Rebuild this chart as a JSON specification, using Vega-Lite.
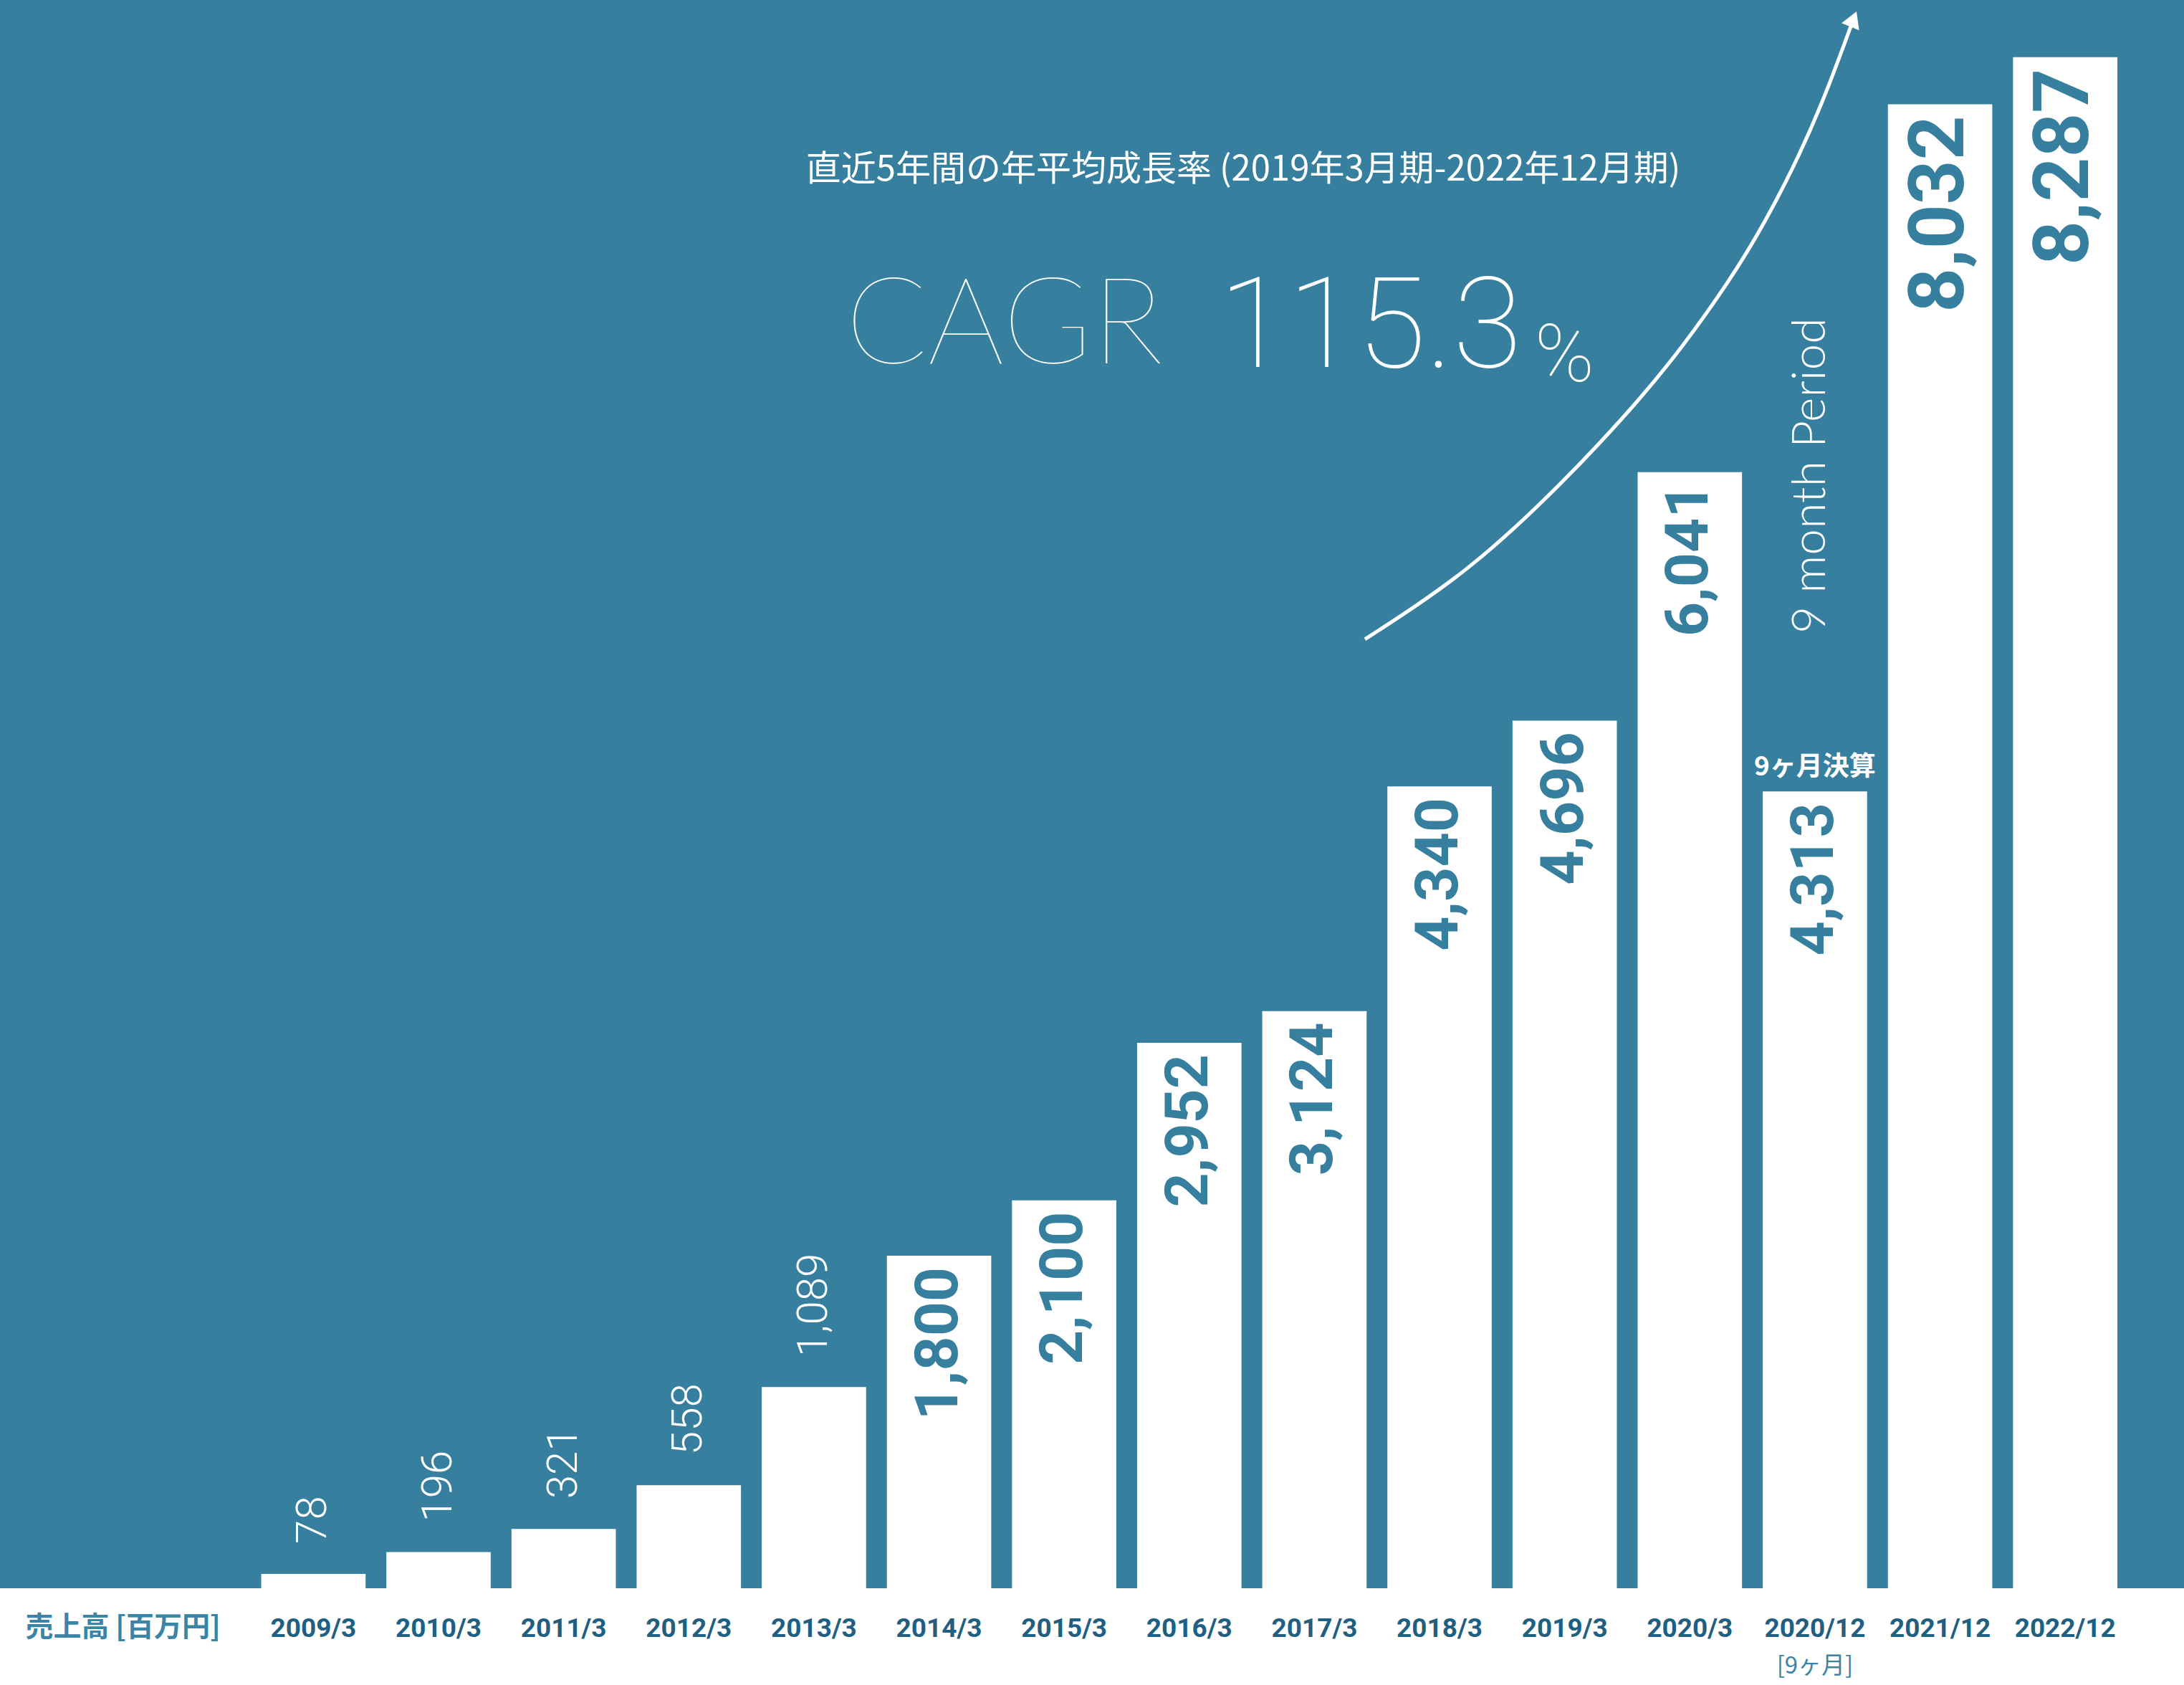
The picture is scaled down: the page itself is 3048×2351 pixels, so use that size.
{
  "$schema": "https://vega.github.io/schema/vega-lite/v6.json",
  "width": 3048,
  "height": 2216,
  "autosize": "none",
  "padding": {"left": 0, "right": 0, "top": 0, "bottom": 135},
  "background": "#ffffff",
  "config": {"view": {"fill": "#367F9E", "stroke": null}},
  "datasets": {
    "sales": [
      {"period": "2009/3", "sales": 78},
      {"period": "2010/3", "sales": 196},
      {"period": "2011/3", "sales": 321},
      {"period": "2012/3", "sales": 558},
      {"period": "2013/3", "sales": 1089},
      {"period": "2014/3", "sales": 1800},
      {"period": "2015/3", "sales": 2100},
      {"period": "2016/3", "sales": 2952},
      {"period": "2017/3", "sales": 3124},
      {"period": "2018/3", "sales": 4340},
      {"period": "2019/3", "sales": 4696},
      {"period": "2020/3", "sales": 6041},
      {"period": "2020/12", "sales": 4313},
      {"period": "2021/12", "sales": 8032},
      {"period": "2022/12", "sales": 8287}
    ]
  },
  "layer": [
    {
      "data": {"name": "sales"},
      "mark": {"type": "bar", "color": "#ffffff"},
      "encoding": {
        "x": {
          "field": "period", "type": "nominal", "sort": null,
          "scale": {"type": "band", "domain": ["2009/3","2010/3","2011/3","2012/3","2013/3","2014/3","2015/3","2016/3","2017/3","2018/3","2019/3","2020/3","2020/12","2021/12","2022/12"], "range": [277.25, 3042.35], "paddingInner": 0.166, "paddingOuter": 0.5, "align": 0.5, "round": false},
          "axis": {
            "orient": "bottom",
            "title": "売上高 [百万円]",
            "titleX": 35, "titleY": 54, "titleAlign": "left", "titleBaseline": "middle", "titleAngle": 0,
            "titleFont": "Noto Sans CJK JP", "titleFontWeight": "bold", "titleFontSize": 39, "titleColor": "#3A85A5",
            "labelFont": "Roboto",
            "labelFontWeight": "bold", "labelFontSize": 37, "labelColor": "#1F5F82",
            "labelAngle": 0, "labelPadding": 38, "labelBaseline": "top",
            "ticks": false, "domain": false, "grid": false
          }
        },
        "y": {"field": "sales", "type": "quantitative", "scale": {"domain": [0, 8596], "nice": false, "zero": true}, "axis": null}
      }
    },
    {
      "data": {"name": "sales"},
      "transform": [{"filter": "datum.sales >= 1500"}],
      "mark": {"type": "text", "angle": 270, "align": "right", "baseline": "middle", "dx": -16, "color": "#367F9E", "font": "Roboto", "fontWeight": "bold"},
      "encoding": {
        "x": {
          "field": "period", "type": "nominal", "sort": null, "bandPosition": 0.5,
          "scale": {"type": "band", "domain": ["2009/3","2010/3","2011/3","2012/3","2013/3","2014/3","2015/3","2016/3","2017/3","2018/3","2019/3","2020/3","2020/12","2021/12","2022/12"], "range": [277.25, 3042.35], "paddingInner": 0.166, "paddingOuter": 0.5, "align": 0.5, "round": false},
          "axis": null
        },
        "y": {"field": "sales", "type": "quantitative", "scale": {"domain": [0, 8596], "nice": false, "zero": true}, "axis": null},
        "text": {"field": "sales", "type": "quantitative", "format": ","},
        "size": {"condition": {"test": "datum.sales > 7000", "value": 108}, "value": 84}
      }
    },
    {
      "data": {"name": "sales"},
      "transform": [{"filter": "datum.sales < 1500"}],
      "mark": {"type": "text", "angle": 270, "align": "left", "baseline": "middle", "dx": 42, "fontSize": 60, "color": "#ffffff", "font": "Roboto", "fontWeight": 300},
      "encoding": {
        "x": {
          "field": "period", "type": "nominal", "sort": null, "bandPosition": 0.5,
          "scale": {"type": "band", "domain": ["2009/3","2010/3","2011/3","2012/3","2013/3","2014/3","2015/3","2016/3","2017/3","2018/3","2019/3","2020/3","2020/12","2021/12","2022/12"], "range": [277.25, 3042.35], "paddingInner": 0.166, "paddingOuter": 0.5, "align": 0.5, "round": false},
          "axis": null
        },
        "y": {"field": "sales", "type": "quantitative", "scale": {"domain": [0, 8596], "nice": false, "zero": true}, "axis": null},
        "text": {"field": "sales", "type": "quantitative", "format": ","}
      }
    },
    {
      "data": {"values": [{"period": "2020/12", "v": 4313, "label": "9ヶ月決算"}]},
      "mark": {"type": "text", "align": "center", "baseline": "bottom", "dy": -14, "fontSize": 37, "color": "#ffffff", "font": "Noto Sans CJK JP", "fontWeight": "bold"},
      "encoding": {
        "x": {
          "field": "period", "type": "nominal", "sort": null, "bandPosition": 0.5,
          "scale": {"type": "band", "domain": ["2009/3","2010/3","2011/3","2012/3","2013/3","2014/3","2015/3","2016/3","2017/3","2018/3","2019/3","2020/3","2020/12","2021/12","2022/12"], "range": [277.25, 3042.35], "paddingInner": 0.166, "paddingOuter": 0.5, "align": 0.5, "round": false},
          "axis": {
            "orient": "bottom", "labelExpr": "datum.value == '2020/12' ? '[9ヶ月]' : ''", "title": null,
            "ticks": false, "domain": false, "grid": false, "labelFlush": false, "labelAngle": 0,
            "labelFont": "Noto Sans CJK JP", "labelFontSize": 33, "labelColor": "#3A85A5", "labelPadding": 92, "labelBaseline": "top"
          }
        },
        "y": {"field": "v", "type": "quantitative", "scale": {"domain": [0, 8596], "nice": false, "zero": true}, "axis": null},
        "text": {"field": "label"}
      }
    },
    {
      "data": {"values": [{"period": "2020/12", "v": 5167, "label": "9 month Period"}]},
      "mark": {"type": "text", "angle": 270, "align": "left", "baseline": "middle", "dy": -6, "fontSize": 66, "color": "#ffffff", "font": "Lato", "fontWeight": 300},
      "encoding": {
        "x": {
          "field": "period", "type": "nominal", "sort": null, "bandPosition": 0.5,
          "scale": {"type": "band", "domain": ["2009/3","2010/3","2011/3","2012/3","2013/3","2014/3","2015/3","2016/3","2017/3","2018/3","2019/3","2020/3","2020/12","2021/12","2022/12"], "range": [277.25, 3042.35], "paddingInner": 0.166, "paddingOuter": 0.5, "align": 0.5, "round": false},
          "axis": null
        },
        "y": {"field": "v", "type": "quantitative", "scale": {"domain": [0, 8596], "nice": false, "zero": true}, "axis": null},
        "text": {"field": "label"}
      }
    },
    {
      "data": {"values": [{"idx": 3.937, "v": 7677, "label": "直近5年間の年平均成長率 (2019年3月期-2022年12月期)"}]},
      "mark": {"type": "text", "align": "left", "baseline": "middle", "fontSize": 49, "color": "#ffffff", "font": "Noto Sans CJK JP", "fontWeight": "normal"},
      "encoding": {
        "x": {"field": "idx", "type": "quantitative", "scale": {"domain": [-2.5047, 14.950], "nice": false, "zero": false}, "axis": null},
        "y": {"field": "v", "type": "quantitative", "scale": {"domain": [0, 8596], "nice": false, "zero": true}, "axis": null},
        "text": {"field": "label"}
      }
    },
    {
      "data": {"values": [{"idx": 4.252, "v": 6629, "label": "CAGR"}]},
      "mark": {"type": "text", "align": "left", "baseline": "alphabetic", "fontSize": 168, "color": "#ffffff", "font": "Lato", "fontWeight": 100},
      "encoding": {
        "x": {"field": "idx", "type": "quantitative", "scale": {"domain": [-2.5047, 14.950], "nice": false, "zero": false}, "axis": null},
        "y": {"field": "v", "type": "quantitative", "scale": {"domain": [0, 8596], "nice": false, "zero": true}, "axis": null},
        "text": {"field": "label"}
      }
    },
    {
      "data": {"values": [{"idx": 7.236, "v": 6610, "label": "115.3"}]},
      "mark": {"type": "text", "align": "left", "baseline": "alphabetic", "fontSize": 176, "color": "#ffffff", "font": "Roboto", "fontWeight": 100},
      "encoding": {
        "x": {"field": "idx", "type": "quantitative", "scale": {"domain": [-2.5047, 14.950], "nice": false, "zero": false}, "axis": null},
        "y": {"field": "v", "type": "quantitative", "scale": {"domain": [0, 8596], "nice": false, "zero": true}, "axis": null},
        "text": {"field": "label"}
      }
    },
    {
      "data": {"values": [{"idx": 9.76, "v": 6533, "label": "%"}]},
      "mark": {"type": "text", "align": "left", "baseline": "alphabetic", "fontSize": 112, "color": "#ffffff", "font": "Roboto", "fontWeight": 100},
      "encoding": {
        "x": {"field": "idx", "type": "quantitative", "scale": {"domain": [-2.5047, 14.950], "nice": false, "zero": false}, "axis": null},
        "y": {"field": "v", "type": "quantitative", "scale": {"domain": [0, 8596], "nice": false, "zero": true}, "axis": null},
        "text": {"field": "label"}
      }
    },
    {
      "data": {"values": [
        {"idx": 8.404, "v": 5136},
        {"idx": 8.834, "v": 5325},
        {"idx": 9.217, "v": 5512},
        {"idx": 9.595, "v": 5732},
        {"idx": 9.978, "v": 5984},
        {"idx": 10.265, "v": 6186},
        {"idx": 10.609, "v": 6442},
        {"idx": 10.935, "v": 6712},
        {"idx": 11.313, "v": 7070},
        {"idx": 11.600, "v": 7388},
        {"idx": 11.886, "v": 7768},
        {"idx": 12.081, "v": 8076},
        {"idx": 12.264, "v": 8411},
        {"idx": 12.287, "v": 8453}
      ]},
      "mark": {"type": "line", "color": "#ffffff", "strokeWidth": 5, "interpolate": "basis"},
      "encoding": {
        "x": {"field": "idx", "type": "quantitative", "scale": {"domain": [-2.5047, 14.950], "nice": false, "zero": false}, "axis": null},
        "y": {"field": "v", "type": "quantitative", "scale": {"domain": [0, 8596], "nice": false, "zero": true}, "axis": null}
      }
    },
    {
      "data": {"values": [{"idx": 12.308, "v": 8493}]},
      "mark": {"type": "point", "shape": "triangle-up", "filled": true, "color": "#ffffff", "opacity": 1, "size": 700, "angle": 22},
      "encoding": {
        "x": {"field": "idx", "type": "quantitative", "scale": {"domain": [-2.5047, 14.950], "nice": false, "zero": false}, "axis": null},
        "y": {"field": "v", "type": "quantitative", "scale": {"domain": [0, 8596], "nice": false, "zero": true}, "axis": null}
      }
    }
  ],
  "resolve": {"scale": {"x": "independent"}}
}
